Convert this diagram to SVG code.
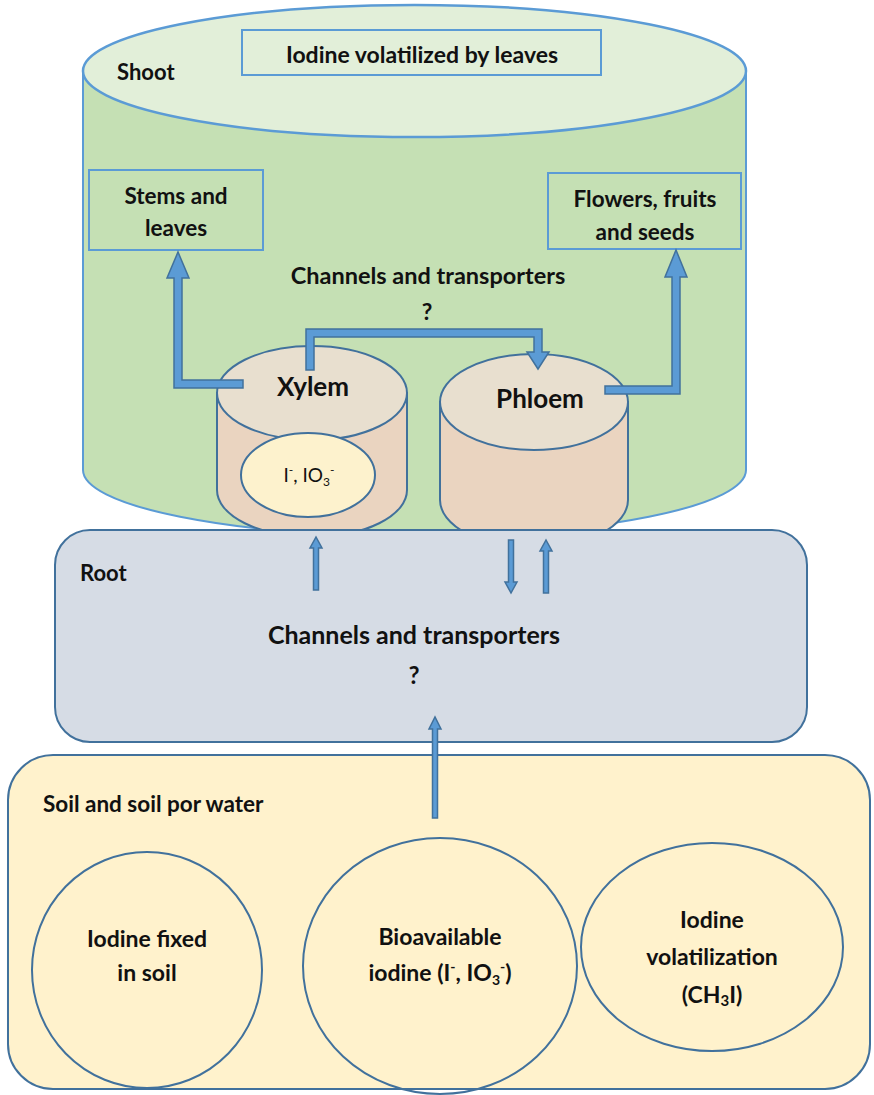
<svg xmlns="http://www.w3.org/2000/svg" width="874" height="1095" viewBox="0 0 874 1095">
<style>
text{font-family:Lato,"Liberation Sans",sans-serif;font-weight:bold;fill:#111;text-anchor:middle}
.lbl{text-anchor:start}
.box{fill:none;stroke:#5b9bd5;stroke-width:2}
.cyl{stroke:#41719c;stroke-width:2}
.arrow{fill:#5b9bd5;stroke:#41719c;stroke-width:1.5;stroke-linejoin:miter}
.circ{fill:none;stroke:#41719c;stroke-width:2}
</style>
<rect width="874" height="1095" fill="#ffffff"/>
<g id="shoot">
<path d="M83,71 L83,470 A331,66 0 0 0 746,470 L746,71 Z" fill="#c5e0b4" stroke="#5b9bd5" stroke-width="2"/>
<ellipse cx="414.5" cy="71" rx="331.5" ry="66" fill="#e2efd9" stroke="#5b9bd5" stroke-width="2.5"/>
<text class="lbl" x="117" y="80" font-size="22">Shoot</text>
</g>
<g id="volatilized">
<rect class="box" x="242" y="30" width="359" height="45"/>
<text x="422" y="63" font-size="23">Iodine volatilized by leaves</text>
</g>
<g id="stems">
<rect class="box" x="89" y="170" width="174" height="80"/>
<text x="176" y="204" font-size="22.5">Stems and</text>
<text x="176" y="236" font-size="22.5">leaves</text>
</g>
<g id="flowers">
<rect class="box" x="548" y="173" width="193" height="76"/>
<text x="645" y="207" font-size="22.5">Flowers, fruits</text>
<text x="645" y="240" font-size="22.5">and seeds</text>
</g>
<g id="shoot-channels">
<text x="428" y="284" font-size="23.5">Channels and transporters</text>
<text x="427" y="320" font-size="23">?</text>
</g>
<g id="xylem">
<path class="cyl" d="M217,393 L217,490 A95,47 0 0 0 407,490 L407,393 Z" fill="#ead4c0"/>
<ellipse class="cyl" cx="312" cy="393" rx="95" ry="47" fill="#e8dfcf"/>
<ellipse class="cyl" cx="308" cy="475" rx="67" ry="42" fill="#fdf2cd"/>
<text x="313" y="396" font-size="26">Xylem</text>
<text x="309" y="482" font-size="19" style="font-weight:normal">I<tspan font-size="12" dy="-8">-</tspan><tspan dy="8">, IO</tspan><tspan font-size="12" dy="4">3</tspan><tspan font-size="12" dy="-12">-</tspan></text>
</g>
<g id="phloem">
<path class="cyl" d="M440,402 L440,500 A94,48 0 0 0 628,500 L628,402 Z" fill="#ead4c0"/>
<ellipse class="cyl" cx="534" cy="402" rx="94" ry="48" fill="#e8dfcf"/>
<text x="540" y="408" font-size="26">Phloem</text>
</g>
<g id="root">
<rect x="55" y="530" width="752" height="212" rx="35" fill="#d6dce5" stroke="#41719c" stroke-width="2"/>
<text class="lbl" x="80" y="581" font-size="22">Root</text>
<text x="414" y="644" font-size="25">Channels and transporters</text>
<text x="414" y="684" font-size="24">?</text>
</g>
<g id="soil">
<rect x="8" y="755" width="862" height="334" rx="45" fill="#fff2cc" stroke="#41719c" stroke-width="2"/>
<text class="lbl" x="43" y="812" font-size="22.5">Soil and soil por water</text>
</g>
<g id="fixed">
<ellipse class="circ" cx="147" cy="970" rx="115" ry="118"/>
<text x="147" y="947" font-size="23">Iodine fixed</text>
<text x="147" y="981" font-size="23">in soil</text>
</g>
<g id="bioavailable">
<ellipse class="circ" cx="440" cy="966" rx="137" ry="128"/>
<text x="440" y="945" font-size="23">Bioavailable</text>
<text x="440" y="981" font-size="23">iodine (I<tspan font-size="14" dy="-9">-</tspan><tspan dy="9">, IO</tspan><tspan font-size="14" dy="4">3</tspan><tspan font-size="14" dy="-13">-</tspan><tspan dy="9">)</tspan></text>
</g>
<g id="volatilization">
<ellipse class="circ" cx="712" cy="947" rx="131" ry="104"/>
<text x="712" y="928" font-size="23">Iodine</text>
<text x="712" y="965" font-size="23">volatilization</text>
<text x="712" y="1003" font-size="23">(CH<tspan font-size="15" dy="3">3</tspan><tspan dy="-3">I)</tspan></text>
</g>
<g id="connectors">
<polygon class="arrow" points="243,380 182,380 182,278 189,278 178,252 167,278 174,278 174,388 243,388"/>
<polygon class="arrow" points="605,386 672,386 672,277 665,277 676,250 687,277 680,277 680,394 605,394"/>
<polygon class="arrow" points="306,370 306,329 542,329 542,352 549,352 538,369 527,352 534,352 534,337 314,337 314,370"/>
<polygon class="arrow" points="313.5,590 313.5,548 310,548 316,537 322,548 318.5,548 318.5,590"/>
<polygon class="arrow" points="508.5,540 508.5,582 505,582 511,593 517,582 513.5,582 513.5,540"/>
<polygon class="arrow" points="543.5,593 543.5,551 540,551 546,540 552,551 548.5,551 548.5,593"/>
<polygon class="arrow" points="432.5,818 432.5,729 429,729 435,717 441,729 437.5,729 437.5,818"/>
</g>
</svg>
